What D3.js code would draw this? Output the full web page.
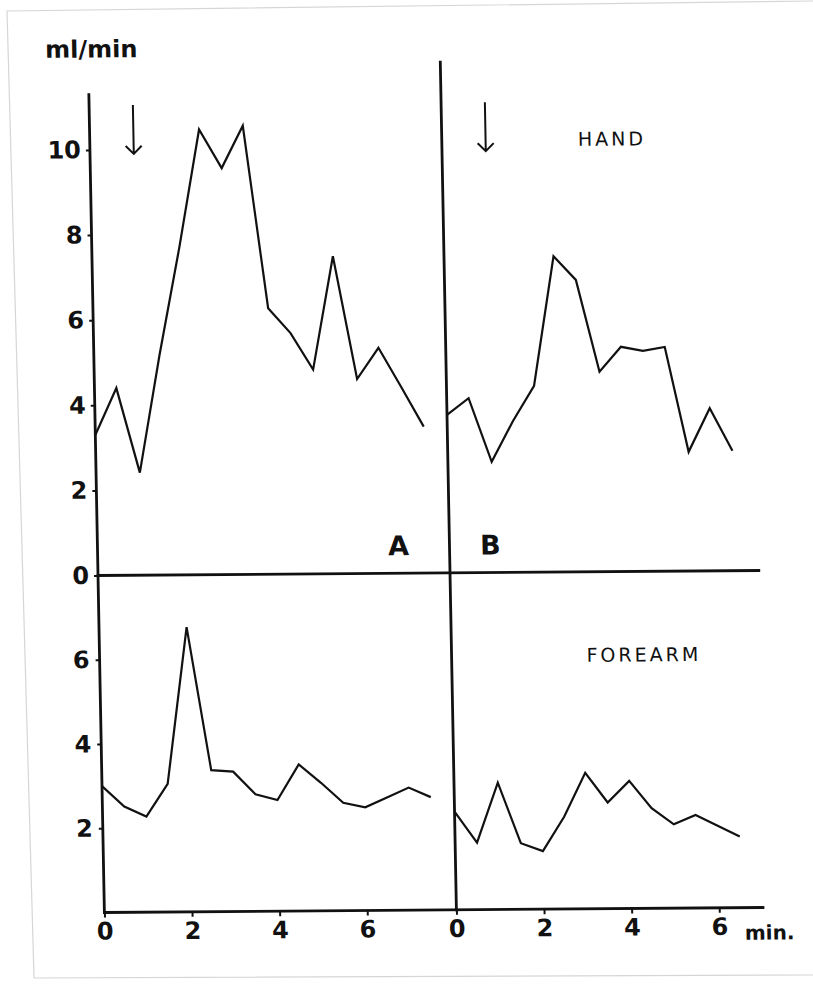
<!DOCTYPE html>
<html>
<head>
<meta charset="utf-8">
<script src="https://cdn.jsdelivr.net/npm/d3@7"></script>
<style>
  body { margin: 0; background: #fff; }
  svg { display: block; }
  text { font-family: "DejaVu Sans", sans-serif; fill: #111; }
</style>
</head>
<body>
<div id="chart"></div>
<script>
// readings every half minute (min)
const timesA = [0, 0.5, 1, 1.5, 2, 2.5, 3, 3.5, 4, 4.5, 5, 5.5, 6, 6.5, 7, 7.5];
const timesB = [0, 0.5, 1, 1.5, 2, 2.5, 3, 3.5, 4, 4.5, 5, 5.5, 6, 6.5];

// blood flow, ml/min
const handA = [3.30, 4.40, 2.41, 5.17, 7.70, 10.46, 9.55, 10.54, 6.25, 5.66, 4.80, 7.46, 4.57, 5.30, 4.38, 3.44];
const handB = [3.71, 4.10, 2.60, 3.55, 4.38, 7.42, 6.86, 4.70, 5.28, 5.18, 5.27, 2.80, 3.82, 2.82];
const forearmA = [3.00, 2.51, 2.27, 3.04, 6.76, 3.36, 3.32, 2.78, 2.64, 3.48, 3.04, 2.56, 2.45, 2.68, 2.91, 2.68];
const forearmB = [2.33, 1.59, 3.01, 1.57, 1.38, 2.19, 3.23, 2.52, 3.03, 2.38, 1.99, 2.21, 1.95, 1.69];

const handTicks = [0, 2, 4, 6, 8, 10];
const forearmTicks = [2, 4, 6];
const timeTicks = [0, 2, 4, 6];
const arrowTime = 1; // marker arrow in both hand panels

const width = 813, height = 984;
const pxPerMin = 43.8;

const svg = d3
  .select("#chart")
  .append("svg")
  .attr("width", width)
  .attr("height", height);

// faint edges of the scanned sheet
svg
  .append("path")
  .attr("d", "M813,1 L7,11 L34,978 L813,975")
  .attr("fill", "none")
  .attr("stroke", "#d6d6d6")
  .attr("stroke-width", 1.2);

// the scan is slightly skewed, so the whole figure is too
const g = svg
  .append("g")
  .attr("transform", "translate(430,573) matrix(1,-0.0076,0.019,1,0,0) translate(-430,-573)");

const xA = d3.scaleLinear().domain([0, 8]).range([98, 98 + 8 * pxPerMin]);
const xB = d3.scaleLinear().domain([0, 7]).range([450, 450 + 7 * pxPerMin]);
const yHand = d3.scaleLinear().domain([0, 12]).range([573, 62.3]);
const yForearm = d3.scaleLinear().domain([0, 8]).range([910, 573]);

const ink = "#111";

// frame lines
const frame = [
  [xA(0), yHand(11.3), xA(0), yForearm(0)], // left axis
  [xB(0), yHand(12), xB(0), yForearm(0)], // divider
  [xA(0), yHand(0), xB(7.05), yHand(0)], // zero line
  [xA(0), yForearm(0), xB(7), yForearm(0)], // time axis
];
g.selectAll(".frame")
  .data(frame)
  .enter()
  .append("line")
  .attr("class", "frame")
  .attr("x1", (d) => d[0])
  .attr("y1", (d) => d[1])
  .attr("x2", (d) => d[2])
  .attr("y2", (d) => d[3])
  .attr("stroke", ink)
  .attr("stroke-width", 2.8)
  .attr("stroke-linecap", "square");

// y axes
function styleAxis(sel, size) {
  sel.select(".domain").remove();
  sel.selectAll(".tick line").attr("stroke", ink).attr("stroke-width", 2);
  sel
    .selectAll(".tick text")
    .attr("fill", ink)
    .style("font-size", size + "px")
    .style("font-weight", "bold")
    .style("font-family", '"DejaVu Sans", sans-serif');
}

g.append("g")
  .attr("transform", `translate(${xA(0)},0)`)
  .call(d3.axisLeft(yHand).tickValues(handTicks).tickSize(4).tickPadding(5).tickFormat(d3.format("d")))
  .call((s) => styleAxis(s, 24));

g.append("g")
  .attr("transform", `translate(${xA(0)},0)`)
  .call(d3.axisLeft(yForearm).tickValues(forearmTicks).tickSize(4).tickPadding(6).tickFormat(d3.format("d")))
  .call((s) => styleAxis(s, 24));

// time axes
[xA, xB].forEach((x) => {
  g.append("g")
    .attr("transform", `translate(0,${yForearm(0)})`)
    .call(d3.axisBottom(x).tickValues(timeTicks).tickSize(5).tickPadding(5).tickFormat(d3.format("d")))
    .call((s) => styleAxis(s, 24));
});

// series
const panels = [
  { x: xA, y: yHand, t: timesA, v: handA },
  { x: xB, y: yHand, t: timesB, v: handB },
  { x: xA, y: yForearm, t: timesA, v: forearmA },
  { x: xB, y: yForearm, t: timesB, v: forearmB },
];

panels.forEach((p) => {
  const line = d3
    .line()
    .x((d, i) => p.x(p.t[i]))
    .y((d) => p.y(d));
  g.append("path")
    .attr("d", line(p.v))
    .attr("fill", "none")
    .attr("stroke", ink)
    .attr("stroke-width", 2.2)
    .attr("stroke-linejoin", "miter");
});

// arrows
[xA, xB].forEach((x) => {
  const ax = x(arrowTime);
  const y1 = yHand(11.05);
  const y2 = yHand(9.9);
  g.append("path")
    .attr("d", `M${ax},${y1} L${ax},${y2} M${ax - 8},${y2 - 8} L${ax},${y2} L${ax + 8},${y2 - 8}`)
    .attr("fill", "none")
    .attr("stroke", ink)
    .attr("stroke-width", 2);
});

// labels
g.append("text")
  .attr("x", 55)
  .attr("y", 55)
  .style("font-size", "24px")
  .style("font-weight", "bold")
  .text("ml/min");

g.append("text")
  .attr("x", 738)
  .attr("y", 942)
  .style("font-size", "20px")
  .style("font-weight", "bold")
  .text("min.");

g.append("text")
  .attr("x", 586)
  .attr("y", 147)
  .style("font-size", "19px")
  .style("letter-spacing", "3px")
  .text("HAND");

g.append("text")
  .attr("x", 585)
  .attr("y", 663)
  .style("font-size", "19px")
  .style("letter-spacing", "3px")
  .text("FOREARM");

g.append("text")
  .attr("x", 399)
  .attr("y", 555)
  .attr("text-anchor", "middle")
  .style("font-size", "27px")
  .style("font-weight", "bold")
  .text("A");

g.append("text")
  .attr("x", 491)
  .attr("y", 555)
  .attr("text-anchor", "middle")
  .style("font-size", "27px")
  .style("font-weight", "bold")
  .text("B");
</script>
</body>
</html>
